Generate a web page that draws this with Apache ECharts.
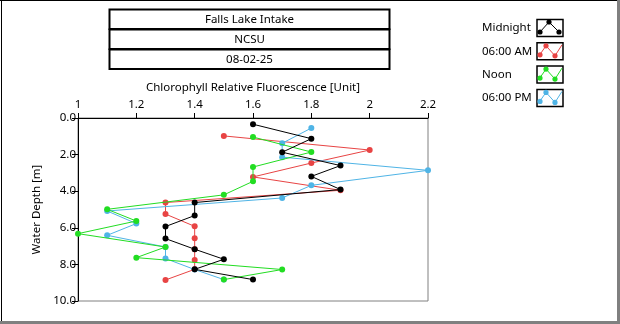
<!DOCTYPE html>
<html>
<head>
<meta charset="utf-8">
<script src="https://cdn.jsdelivr.net/npm/echarts@6/dist/echarts.min.js"></script>
<style>
html,body{margin:0;padding:0;background:#fff;}
#c{width:620px;height:324px;}
</style>
</head>
<body>
<div id="c"></div>
<script>
// ---- data ----
const titleLines = ["Falls Lake Intake", "NCSU", "08-02-25"];
const seriesNames = ["Midnight", "06:00 AM", "Noon", "06:00 PM"];
const xTitle = "Chlorophyll Relative Fluorescence [Unit]";
const yTitle = "Water Depth [m]";

const midnightDepth = [0.34, 1.13, 1.87, 2.6, 3.19, 3.91, 4.62, 5.33, 5.93, 6.59, 7.17, 7.72, 8.27, 8.83];
const midnightValue = [1.6, 1.8, 1.7, 1.9, 1.8, 1.9, 1.4, 1.4, 1.3, 1.3, 1.4, 1.5, 1.4, 1.6];

const amDepth = [0.98, 1.75, 2.46, 3.22, 3.95, 4.62, 5.25, 5.92, 6.57, 7.17, 7.76, 8.27, 8.85];
const amValue = [1.5, 2.0, 1.8, 1.6, 1.9, 1.3, 1.3, 1.4, 1.4, 1.4, 1.4, 1.4, 1.3];

const noonDepth = [1.04, 1.86, 2.68, 3.46, 4.2, 4.99, 5.63, 6.32, 7.05, 7.63, 8.28, 8.83];
const noonValue = [1.6, 1.8, 1.6, 1.6, 1.5, 1.1, 1.2, 1.0, 1.3, 1.2, 1.7, 1.5];

const pmDepth = [0.55, 1.38, 2.14, 2.86, 3.68, 4.37, 5.08, 5.77, 6.41, 7.05, 7.68, 8.28, 8.83];
const pmValue = [1.8, 1.7, 1.7, 2.2, 1.8, 1.7, 1.1, 1.2, 1.1, 1.3, 1.3, 1.4, 1.5];

const xMin = 1, xMax = 2.2, xStep = 0.2;
const yMin = 0, yMax = 10, yStep = 2;

// ---- styles ----
const FONT = "'Segoe UI','Noto Sans','Open Sans',sans-serif";
const FS = 11.5;
const colors = ["#000000", "#e84444", "#22dd22", "#4fb4e6"];

function pairs(vals, depths){ return vals.map((v,i)=>[v, depths[i]]); }
const seriesData = [
  pairs(midnightValue, midnightDepth),
  pairs(amValue, amDepth),
  pairs(noonValue, noonDepth),
  pairs(pmValue, pmDepth)
];

const drawOrder = [1, 3, 2, 0];
const series = drawOrder.map((k, idx) => ({
  name: seriesNames[k],
  type: 'line',
  data: seriesData[k],
  symbol: 'circle',
  symbolSize: 6,
  showSymbol: true,
  clip: false,
  z: 2 + idx,
  itemStyle: { color: colors[k] },
  lineStyle: { color: colors[k], width: 1 },
  emphasis: { disabled: true },
  animation: false
}));

// ---- graphics (frame, title boxes, legend) ----
const graphics = [];
graphics.push({ type:'rect', shape:{x:0, y:0, width:620, height:1}, style:{fill:'#000'}, silent:true });
graphics.push({ type:'rect', shape:{x:1, y:0, width:1, height:324}, style:{fill:'#000'}, silent:true });
graphics.push({ type:'rect', shape:{x:617, y:0, width:3, height:324}, style:{fill:'#808080'}, silent:true });
graphics.push({ type:'rect', shape:{x:0, y:321, width:620, height:3}, style:{fill:'#808080'}, silent:true });

const boxX = 109.5, boxW = 280, boxTop = 9.5, boxH = 19.5;
titleLines.forEach((t, i) => {
  const y = boxTop + i * (boxH + 0.5);
  graphics.push({ type:'rect', shape:{x:boxX, y:y, width:boxW, height:boxH},
    style:{fill:'#fff', stroke:'#000', lineWidth:2}, silent:true });
  graphics.push({ type:'text', x: boxX + boxW/2, y: y + boxH/2 + 0.5,
    style:{text:t, fill:'#000', font: FS + 'px ' + FONT, align:'center', verticalAlign:'middle'}, silent:true });
});

const legX = 482, legIconX = 537, legTop = 19.5, legStep = 23.3;
seriesNames.forEach((n, i) => {
  const y0 = legTop + i * legStep;
  graphics.push({ type:'text', x: legX, y: y0 + 8.5,
    style:{text:n, fill:'#000', font: FS + 'px ' + FONT, align:'left', verticalAlign:'middle'}, silent:true });
  graphics.push({ type:'rect', shape:{x:legIconX, y:y0, width:26, height:17},
    style:{fill:'#fff', stroke:'#000', lineWidth:1.5}, silent:true });
  let pts, dots;
  if (i === 0) {
    pts = [[540, y0+12.5],[549, y0+2.5],[559, y0+12.5]];
    dots = pts;
  } else {
    pts = [[539, y0+13],[546, y0+3],[555, y0+13],[562, y0+2]];
    dots = [[540, y0+12],[546, y0+3],[555, y0+13]];
  }
  graphics.push({ type:'polyline', shape:{points:pts}, style:{stroke:colors[i], lineWidth:1, fill:null}, silent:true });
  dots.forEach(d => graphics.push({ type:'circle', shape:{cx:d[0], cy:d[1], r:2.6}, style:{fill:colors[i]}, silent:true }));
});

const chart = echarts.init(document.getElementById('c'), null, {renderer:'canvas'});
chart.setOption({
  animation: false,
  backgroundColor: '#fff',
  textStyle: { fontFamily: FONT },
  grid: { left: 78, top: 118, width: 350, height: 183, show: true,
          borderColor: '#808080', borderWidth: 1, backgroundColor: 'transparent' },
  xAxis: {
    type: 'value', position: 'top', min: xMin, max: xMax, interval: xStep,
    name: xTitle, nameLocation: 'middle', nameGap: 23,
    nameTextStyle: { color:'#000', fontSize: FS, fontFamily: FONT },
    axisLine: { show: true, onZero: false, lineStyle: { color:'#000', width: 1 } },
    axisTick: { show: true, inside: false, length: 5, lineStyle: { color:'#000' } },
    axisLabel: { color:'#000', fontSize: FS, fontFamily: FONT, margin: 7 },
    splitLine: { show: false }
  },
  yAxis: {
    type: 'value', inverse: true, min: yMin, max: yMax, interval: yStep,
    name: yTitle, nameLocation: 'middle', nameGap: 34, nameRotate: 90,
    nameTextStyle: { color:'#000', fontSize: FS, fontFamily: FONT },
    axisLine: { show: true, onZero: false, lineStyle: { color:'#000', width: 1 } },
    axisTick: { show: true, inside: false, length: 6, lineStyle: { color:'#000' } },
    axisLabel: { color:'#000', fontSize: FS, fontFamily: FONT, margin: 2,
                 formatter: v => v.toFixed(1) },
    splitLine: { show: false }
  },
  series: series,
  graphic: graphics
});
</script>
</body>
</html>
